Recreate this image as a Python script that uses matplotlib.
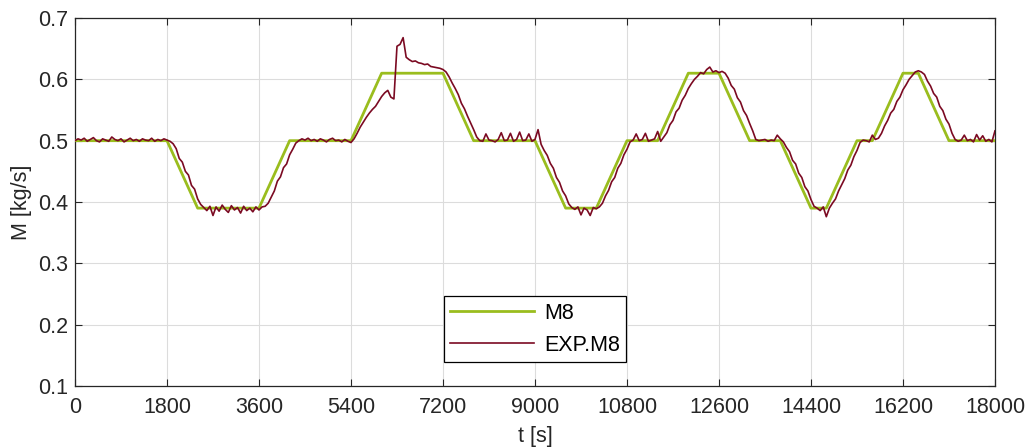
import numpy as np
import matplotlib
matplotlib.use("Agg")
import matplotlib.pyplot as plt

plt.rcParams['font.family'] = ['Liberation Sans', 'DejaVu Sans']

# Setpoint M8 (breakpoints)
m8_t = [0, 1800, 2400, 3600, 4200, 5400, 6000, 7200, 7800, 9000, 9600, 10200,
        10800, 11400, 12000, 12600, 13200, 13800, 14400, 14700, 15300, 15600,
        16200, 16500, 17100, 18000]
m8_v = [0.50, 0.50, 0.39, 0.39, 0.50, 0.50, 0.61, 0.61, 0.50, 0.50, 0.39, 0.39,
        0.50, 0.50, 0.61, 0.61, 0.50, 0.50, 0.39, 0.39, 0.50, 0.50,
        0.61, 0.61, 0.50, 0.50]

# Measured EXP.M8, one sample every 60 s (each row = 600 s)
exp_dt = 60
exp_v = [
    0.500, 0.503, 0.501, 0.504, 0.499, 0.502, 0.505, 0.500, 0.498, 0.503,
    0.501, 0.499, 0.506, 0.502, 0.500, 0.503, 0.498, 0.501, 0.504, 0.500,
    0.502, 0.499, 0.503, 0.501, 0.500, 0.504, 0.499, 0.502, 0.500, 0.503,
    0.501, 0.499, 0.495, 0.487, 0.471, 0.465, 0.450, 0.444, 0.427, 0.421,
    0.405, 0.396, 0.391, 0.386, 0.393, 0.378, 0.392, 0.385, 0.395, 0.388,
    0.383, 0.394, 0.387, 0.391, 0.382, 0.393, 0.386, 0.390, 0.384, 0.392,
    0.387, 0.392, 0.393, 0.398, 0.408, 0.418, 0.434, 0.441, 0.456, 0.462,
    0.477, 0.486, 0.496, 0.500, 0.503, 0.501, 0.504, 0.500, 0.502, 0.499,
    0.503, 0.501, 0.498, 0.502, 0.504, 0.500, 0.501, 0.498, 0.502, 0.499,
    0.497, 0.503, 0.512, 0.522, 0.530, 0.538, 0.545, 0.551, 0.556, 0.564,
    0.572, 0.578, 0.582, 0.571, 0.568, 0.654, 0.657, 0.668, 0.636, 0.632,
    0.629, 0.630, 0.627, 0.626, 0.624, 0.625, 0.621, 0.620, 0.619, 0.618,
    0.616, 0.612, 0.604, 0.594, 0.585, 0.575, 0.561, 0.552, 0.540, 0.529,
    0.518, 0.506, 0.500, 0.499, 0.511, 0.501, 0.500, 0.498, 0.502, 0.513,
    0.500, 0.501, 0.512, 0.499, 0.502, 0.514, 0.500, 0.501, 0.511, 0.499,
    0.502, 0.518, 0.494, 0.484, 0.476, 0.463, 0.455, 0.440, 0.432, 0.418,
    0.410, 0.397, 0.391, 0.388, 0.392, 0.379, 0.390, 0.387, 0.378, 0.391,
    0.389, 0.392, 0.398, 0.410, 0.419, 0.433, 0.440, 0.455, 0.463, 0.477,
    0.486, 0.498, 0.501, 0.511, 0.500, 0.502, 0.512, 0.499, 0.501, 0.503,
    0.515, 0.499, 0.506, 0.513, 0.526, 0.533, 0.547, 0.553, 0.566, 0.574,
    0.585, 0.593, 0.600, 0.605, 0.611, 0.609, 0.616, 0.620, 0.612, 0.614,
    0.611, 0.613, 0.610, 0.602, 0.590, 0.584, 0.570, 0.563, 0.549, 0.541,
    0.528, 0.516, 0.502, 0.500, 0.501, 0.502, 0.499, 0.501, 0.500, 0.509,
    0.503, 0.498, 0.489, 0.482, 0.468, 0.462, 0.447, 0.440, 0.425, 0.418,
    0.404, 0.393, 0.390, 0.386, 0.392, 0.376, 0.390, 0.398, 0.405, 0.418,
    0.428, 0.438, 0.452, 0.460, 0.474, 0.484, 0.497, 0.501, 0.500, 0.498,
    0.509, 0.502, 0.504, 0.512, 0.524, 0.533, 0.545, 0.551, 0.564, 0.571,
    0.583, 0.591, 0.600, 0.606, 0.612, 0.614, 0.612, 0.608, 0.597, 0.589,
    0.577, 0.571, 0.556, 0.549, 0.535, 0.527, 0.512, 0.502, 0.499, 0.501,
    0.509, 0.500, 0.502, 0.498, 0.510, 0.501, 0.508, 0.499, 0.502, 0.498,
    0.516,
]
exp_t = np.arange(len(exp_v)) * exp_dt

x_ticks = [0, 1800, 3600, 5400, 7200, 9000, 10800, 12600, 14400, 16200, 18000]
y_ticks = [0.1, 0.2, 0.3, 0.4, 0.5, 0.6, 0.7]

green = '#9abd1e'
maroon = '#7b0a22'
axcol = '#262626'
fs = 15.5

fig = plt.figure(figsize=(10.30, 4.48), dpi=100)
ax = fig.add_axes([0.0728, 0.1384, 0.8932, 0.8214])

ax.plot(m8_t, m8_v, color=green, lw=2.0, label='M8', zorder=3)
ax.plot(exp_t, exp_v, color=maroon, lw=1.2, label='EXP.M8', zorder=4)

ax.set_xlim(0, 18000)
ax.set_ylim(0.1, 0.7)
ax.set_xticks(x_ticks)
ax.set_xticklabels([str(v) for v in x_ticks])
ax.set_yticks(y_ticks)
ax.set_yticklabels([f'{v:.1f}' for v in y_ticks])

ax.grid(True, color='#dcdcdc', lw=0.8)
ax.set_axisbelow(True)
ax.tick_params(direction='in', length=5, width=0.8, colors=axcol,
               labelsize=fs, top=True, right=True)
ax.tick_params(axis='x', pad=8)
ax.tick_params(axis='y', pad=5)
for s in ax.spines.values():
    s.set_color(axcol)
    s.set_linewidth(0.9)

ax.set_xlabel('t [s]', fontsize=fs, color=axcol, labelpad=6)
ax.set_ylabel('M [kg/s]', fontsize=fs, color=axcol, labelpad=4)

leg = ax.legend(loc='lower center', bbox_to_anchor=(0.5, 0.065), fontsize=fs,
                frameon=True, fancybox=False, handlelength=3.9,
                borderpad=0.3, labelspacing=0.5, handletextpad=0.45,
                borderaxespad=0)
leg.get_frame().set_edgecolor('#000000')
leg.get_frame().set_linewidth(0.9)
leg.get_frame().set_alpha(1)

fig.savefig('out.png', dpi=100)
